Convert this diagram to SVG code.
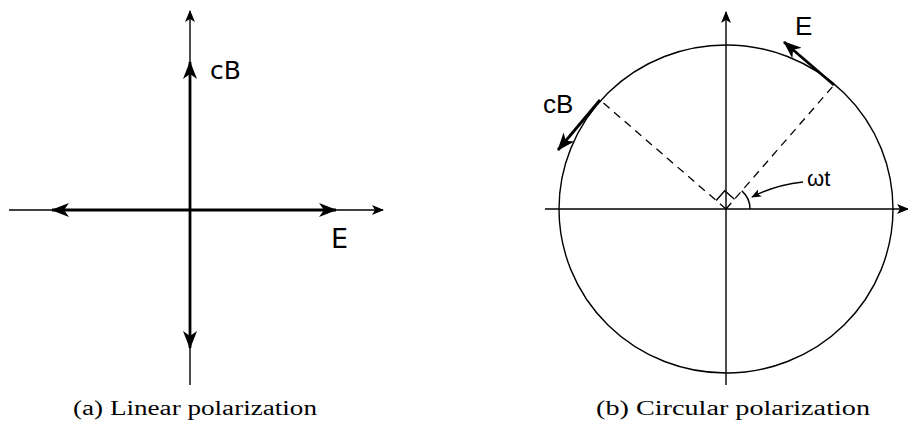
<svg xmlns="http://www.w3.org/2000/svg" width="908" height="424" viewBox="0 0 908 424">
<style>
.thin{stroke:#000;stroke-width:1.4;fill:none}
.thick{stroke:#000;stroke-width:2.8;fill:none}
.dash{stroke:#000;stroke-width:1.3;fill:none;stroke-dasharray:8,6}
.lbl{font-family:"DejaVu Sans","Liberation Sans",sans-serif;fill:#000}
.lbr{font-family:"Liberation Sans",Arial,sans-serif;fill:#000}
.cap{font-family:"Liberation Serif",serif;font-size:20px;fill:#000}
</style>
<defs>
<marker id="ah" viewBox="0 0 12 10" refX="11" refY="5" markerWidth="12" markerHeight="10" markerUnits="userSpaceOnUse" orient="auto">
<path d="M0,0 L12,5 L0,10 L3,5 Z" fill="#000"/>
</marker>
<marker id="ahb" viewBox="0 0 18 14" refX="17" refY="7" markerWidth="18" markerHeight="14" markerUnits="userSpaceOnUse" orient="auto">
<path d="M0,0 L18,7 L0,14 L5,7 Z" fill="#000"/>
</marker>
<marker id="ahs" viewBox="0 0 10 8" refX="9" refY="4" markerWidth="10" markerHeight="8" markerUnits="userSpaceOnUse" orient="auto">
<path d="M0,0 L10,4 L0,8 L2.5,4 Z" fill="#000"/>
</marker>
</defs>
<g id="connectors">
<line class="thin" x1="190" y1="385" x2="190" y2="11" marker-end="url(#ah)"/>
<line class="thin" x1="9" y1="210" x2="383" y2="210" marker-end="url(#ah)"/>
<line class="thick" x1="190" y1="210" x2="190" y2="62" marker-end="url(#ahb)"/>
<line class="thick" x1="190" y1="210" x2="190" y2="348" marker-end="url(#ahb)"/>
<line class="thick" x1="190" y1="210" x2="52" y2="210" marker-end="url(#ahb)"/>
<line class="thick" x1="190" y1="210" x2="336" y2="210" marker-end="url(#ahb)"/>
<line class="thin" x1="726" y1="385" x2="726" y2="12" marker-end="url(#ah)"/>
<line class="thin" x1="545" y1="209" x2="908" y2="209" marker-end="url(#ah)"/>
<line class="dash" x1="726" y1="209" x2="834" y2="85"/>
<line class="dash" x1="726" y1="209" x2="600" y2="100"/>
<line class="thick" x1="834" y1="85" x2="784" y2="42" marker-end="url(#ahb)"/>
<line class="thick" x1="600" y1="100" x2="558" y2="150" marker-end="url(#ahb)"/>
<path class="thin" d="M716.2,200.5 L724.7,190.7 L734.5,199.2"/>
<path class="thin" d="M750,209 A24,24 0 0 0 741.8,190.9"/>
<path class="thin" d="M803,182 Q775,185 752,197" marker-end="url(#ahs)"/>
</g>
<g id="circle">
<ellipse class="thin" cx="726" cy="209" rx="167" ry="164"/>
</g>
<g id="labels">
<text class="lbl" x="210" y="79" style="font-size:25px">cB</text>
<text class="lbl" x="331" y="248" style="font-size:27px">E</text>
<text class="lbr" x="795" y="35" style="font-size:26px">E</text>
<text class="lbr" x="543" y="113" style="font-size:26px">cB</text>
<text class="lbr" x="807" y="186" style="font-size:22px">ωt</text>
<text class="cap" x="73" y="415" textLength="244" lengthAdjust="spacingAndGlyphs">(a) Linear polarization</text>
<text class="cap" x="596" y="415" textLength="274" lengthAdjust="spacingAndGlyphs">(b) Circular polarization</text>
</g>
</svg>
